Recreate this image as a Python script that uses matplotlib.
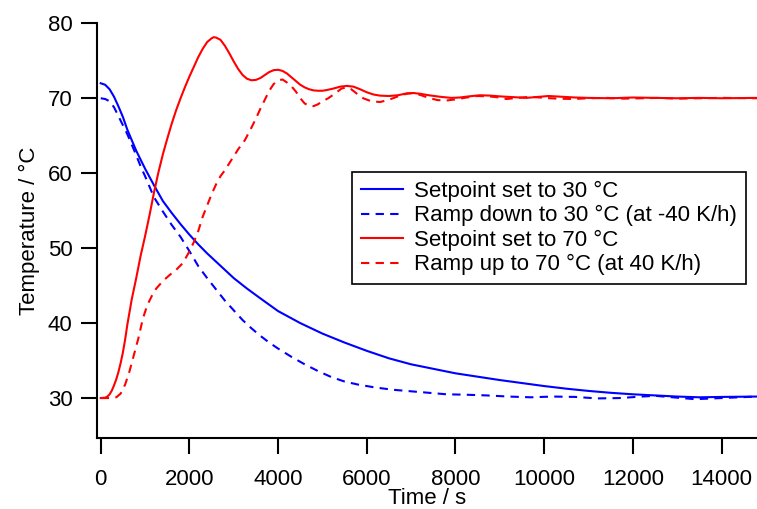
import matplotlib
matplotlib.use("Agg")
import matplotlib.pyplot as plt

plt.rcParams["font.family"] = ["Liberation Sans", "DejaVu Sans"]

# Setpoint set to 30 °C (blue, solid)
t_down_step = [0, 100, 200, 300, 400, 500, 600, 700, 800, 900, 1000, 1200, 1400,
               1600, 1800, 2000, 2200, 2400, 2600, 2800, 3000, 3300, 3600, 4000,
               4500, 5000, 5500, 6000, 6500, 7000, 7500, 8000, 8500, 9000, 9500,
               10000, 10500, 11000, 11500, 12000, 12500, 13000, 13500, 14000, 14800]
T_down_step = [72.0, 71.8, 71.2, 70.2, 68.9, 67.5, 65.8, 64.4, 63.0, 61.8, 60.6,
               58.4, 56.3, 54.7, 53.2, 51.8, 50.5, 49.3, 48.2, 47.1, 46.0, 44.6,
               43.3, 41.6, 40.0, 38.6, 37.4, 36.3, 35.3, 34.5, 33.9, 33.3, 32.85,
               32.4, 32.0, 31.6, 31.25, 30.95, 30.7, 30.5, 30.35, 30.2, 30.1, 30.15,
               30.2]

# Ramp down to 30 °C (blue, dashed)
t_down_ramp = [0, 100, 200, 300, 400, 500, 600, 700, 800, 900, 1000, 1100, 1200,
               1400, 1600, 1800, 2000, 2200, 2400, 2600, 2800, 3000, 3200, 3400,
               3600, 3800, 4000, 4300, 4600, 4900, 5200, 5500, 5800, 6200, 6600,
               7000, 7400, 7800, 8200, 8700, 9200, 9700, 10200, 10700, 11200,
               11700, 12200, 12500, 12900, 13400, 13800, 14200, 14800]
T_down_ramp = [70.0, 69.9, 69.6, 68.8, 67.6, 66.4, 65.2, 63.8, 62.4, 60.9, 59.6,
               58.2, 56.8, 54.9, 53.1, 51.5, 49.6, 47.6, 46.0, 44.5, 43.0, 41.7,
               40.4, 39.3, 38.3, 37.4, 36.6, 35.5, 34.5, 33.6, 32.8, 32.2, 31.8,
               31.4, 31.1, 30.9, 30.7, 30.5, 30.45, 30.35, 30.2, 30.1, 30.2, 30.15,
               29.95, 30.0, 30.2, 30.3, 30.1, 29.85, 29.95, 30.05, 30.2]

# Setpoint set to 70 °C (red, solid)
t_up_step = [0, 100, 150, 200, 250, 300, 350, 400, 450, 500, 550, 600, 700, 800,
             900, 1000, 1100, 1200, 1300, 1400, 1500, 1600, 1700, 1800, 1900,
             2000, 2100, 2200, 2300, 2400, 2500, 2550, 2600, 2700, 2800, 2900,
             3000, 3100, 3200, 3300, 3400, 3500, 3600, 3700, 3800, 3900, 4000,
             4100, 4200, 4300, 4400, 4500, 4600, 4700, 4800, 4900, 5000, 5100,
             5250, 5400, 5550, 5700, 5850, 6000, 6150, 6300, 6500, 6700, 6900,
             7050, 7200, 7400, 7650, 7900, 8100, 8300, 8550, 8800, 9000, 9300,
             9600, 9800, 10100, 10400, 10700, 11000, 11500, 12000, 12500, 13000,
             13500, 14000, 14800]
T_up_step = [30.0, 30.05, 30.2, 30.5, 31.0, 31.7, 32.5, 33.5, 34.7, 36.1, 37.8,
             39.8, 43.2, 46.0, 49.0, 51.6, 54.4, 57.4, 60.1, 62.5, 64.6, 66.6,
             68.4, 70.0, 71.5, 72.9, 74.2, 75.5, 76.6, 77.5, 78.0, 78.15, 78.1,
             77.8, 77.0, 76.0, 74.9, 73.9, 73.1, 72.6, 72.4, 72.45, 72.7, 73.1,
             73.5, 73.75, 73.8, 73.65, 73.3, 72.8, 72.3, 71.8, 71.45, 71.2, 71.05,
             71.0, 71.0, 71.1, 71.3, 71.55, 71.65, 71.55, 71.2, 70.8, 70.5, 70.35,
             70.3, 70.4, 70.65, 70.7, 70.6, 70.4, 70.2, 70.05, 70.1, 70.25, 70.4,
             70.35, 70.25, 70.15, 70.05, 70.15, 70.3, 70.2, 70.1, 70.05, 70.0,
             70.1, 70.05, 70.0, 70.05, 70.0, 70.05]

# Ramp up to 70 °C (red, dashed)
t_up_ramp = [0, 200, 350, 450, 550, 650, 750, 850, 950, 1050, 1150, 1250, 1400,
             1550, 1700, 1850, 1975, 2100, 2200, 2300, 2400, 2500, 2600, 2700,
             2800, 2950, 3100, 3250, 3400, 3500, 3600, 3700, 3800, 3900, 4000,
             4100, 4200, 4300, 4400, 4500, 4600, 4700, 4800, 4900, 5000, 5130,
             5300, 5430, 5550, 5650, 5800, 5920, 6100, 6300, 6500, 6700, 6900,
             7050, 7200, 7425, 7600, 7800, 8000, 8250, 8500, 8750, 9000, 9150,
             9400, 9700, 10000, 10300, 10650, 11000, 11400, 11800, 12200, 12600,
             13000, 13500, 14000, 14800]
T_up_ramp = [30.0, 30.0, 30.1, 30.6, 31.8, 33.6, 35.8, 38.0, 40.6, 42.4, 43.6,
             44.6, 45.6, 46.4, 47.1, 48.0, 49.3, 50.8, 52.3, 54.2, 55.7, 57.2,
             58.5, 59.6, 60.4, 61.8, 63.2, 64.4, 66.1, 67.3, 68.6, 69.8, 71.0,
             71.9, 72.4, 72.5, 72.1, 71.6, 70.9, 70.0, 69.3, 69.0, 68.95, 69.2,
             69.6, 70.0, 70.7, 71.3, 71.45, 71.2, 70.5, 70.0, 69.6, 69.5, 69.8,
             70.25, 70.6, 70.7, 70.45, 70.0, 69.75, 69.7, 69.85, 70.1, 70.3, 70.25,
             70.1, 69.9, 70.05, 70.2, 70.05, 69.95, 69.9, 70.0, 70.05, 69.95, 70.0,
             70.05, 69.95, 70.0, 70.05, 70.0]

x_ticks = [0, 2000, 4000, 6000, 8000, 10000, 12000, 14000]
y_ticks = [30, 40, 50, 60, 70, 80]

fig = plt.figure(figsize=(7.57, 5.09), dpi=100)
ax = fig.add_axes([0.1281, 0.1395, 0.8719, 0.8147])

lw = 1.5
dash = (4, 3)
ax.plot(t_down_step, T_down_step, color="#0000ff", lw=lw, label="Setpoint set to 30 °C")
ax.plot(t_down_ramp, T_down_ramp, color="#0000ff", lw=lw, dashes=dash,
        label="Ramp down to 30 °C (at -40 K/h)")
ax.plot(t_up_step, T_up_step, color="#ff0000", lw=lw, label="Setpoint set to 70 °C")
ax.plot(t_up_ramp, T_up_ramp, color="#ff0000", lw=lw, dashes=dash,
        label="Ramp up to 70 °C (at 40 K/h)")

ax.set_xlim(-85, 14800)
ax.set_ylim(24.67, 80)
ax.set_xticks(x_ticks)
ax.set_yticks(y_ticks)

for side in ("top", "right"):
    ax.spines[side].set_visible(False)
for side in ("left", "bottom"):
    ax.spines[side].set_linewidth(1.5)

ax.tick_params(axis="both", direction="out", length=11.5, width=1.5,
               labelsize=16)
ax.tick_params(axis="y", pad=6)
ax.tick_params(axis="x", pad=11)

# label squeezed right under the tick labels, close to the bottom edge
ax.set_xlabel("Time / s", fontsize=16, labelpad=-1.5)
ax.set_ylabel("Temperature / °C", fontsize=16, labelpad=6)

leg = ax.legend(loc="upper left", bbox_to_anchor=(352 / 757, 1 - 172 / 509),
                bbox_transform=fig.transFigure, borderaxespad=0, fontsize=16,
                frameon=True, fancybox=False, framealpha=1, edgecolor="black",
                handlelength=1.9, handletextpad=0.5, labelspacing=0.15,
                borderpad=0.4)
leg.get_frame().set_linewidth(1.2)

fig.savefig("out.png", dpi=100)
